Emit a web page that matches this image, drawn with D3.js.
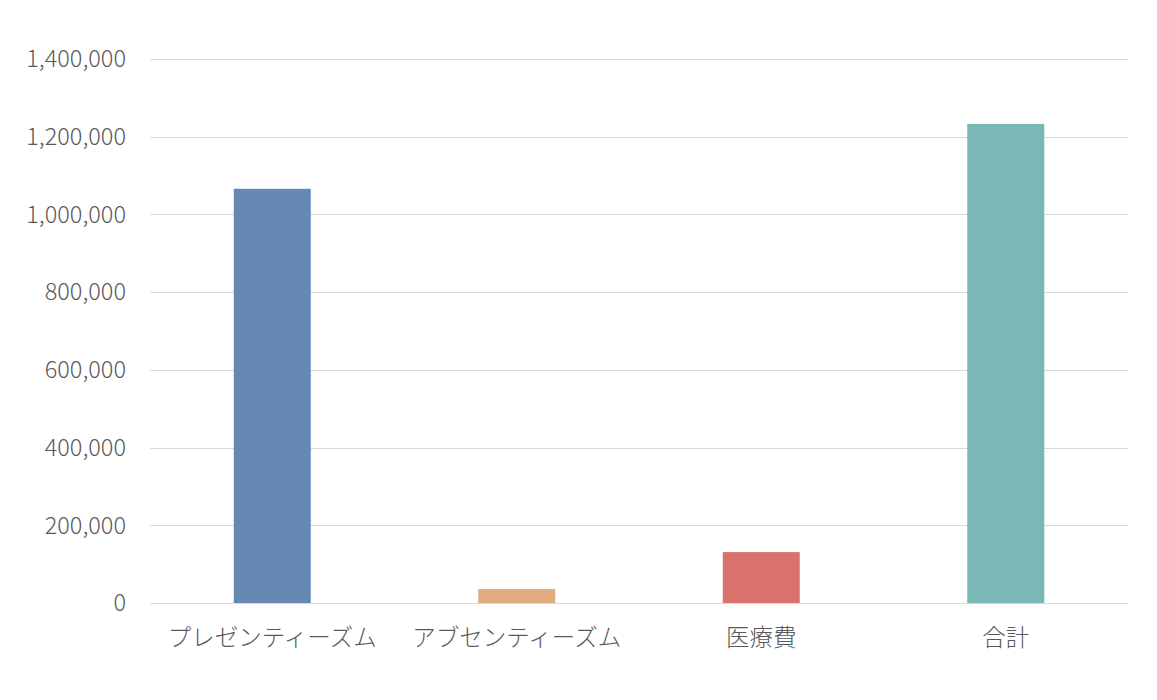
<!DOCTYPE html>
<html>
<head>
<meta charset="utf-8">
<script src="https://cdn.jsdelivr.net/npm/d3@7"></script>
<style>
  body { margin: 0; background: #fff; }
  text { font-family: "Noto Sans CJK JP", "Noto Sans", sans-serif; fill: #595959; font-weight: 300; }
</style>
</head>
<body>
<div id="chart"></div>
<script>
// chart values
var categories = ["プレゼンティーズム", "アブセンティーズム", "医療費", "合計"];
var values = [1066000, 36000, 131000, 1233000];
var colors = ["#6689B4", "#E1AC80", "#D9716D", "#7AB8B6"];
var yTicks = [0, 200000, 400000, 600000, 800000, 1000000, 1200000, 1400000];

var width = 1157, height = 700;
var margin = {top: 59, right: 29, bottom: 97, left: 150};

var svg = d3.select("#chart").append("svg")
  .attr("width", width).attr("height", height);

var x = d3.scaleBand()
  .domain(categories)
  .range([margin.left, width - margin.right])
  .paddingInner(0.685).paddingOuter(0.3425);

var y = d3.scaleLinear()
  .domain([0, 1400000])
  .range([height - margin.bottom, margin.top]);

// gridlines
svg.append("g").selectAll("line")
  .data(yTicks).join("line")
  .attr("x1", margin.left).attr("x2", width - margin.right)
  .attr("y1", d => Math.round(y(d)) + 0.5).attr("y2", d => Math.round(y(d)) + 0.5)
  .attr("stroke", "#d9d9d9").attr("stroke-width", 1);

// y labels
var fmt = d3.format(",");
svg.append("g").selectAll("text")
  .data(yTicks).join("text")
  .attr("x", 126).attr("y", d => y(d))
  .attr("dy", "0.35em")
  .attr("text-anchor", "end")
  .style("font-size", "23.5px")
  .text(d => fmt(d));

// bars
svg.append("g").selectAll("rect")
  .data(values).join("rect")
  .attr("x", (d, i) => x(categories[i]))
  .attr("width", x.bandwidth())
  .attr("y", d => y(d))
  .attr("height", d => y(0) - y(d))
  .attr("fill", (d, i) => colors[i]);

// category labels
svg.append("g").selectAll("text")
  .data(categories).join("text")
  .attr("x", d => x(d) + x.bandwidth() / 2)
  .attr("y", height - margin.bottom + 35)
  .attr("dy", "0.35em")
  .attr("text-anchor", "middle")
  .style("font-size", "23.5px")
  .text(d => d);
</script>
</body>
</html>
